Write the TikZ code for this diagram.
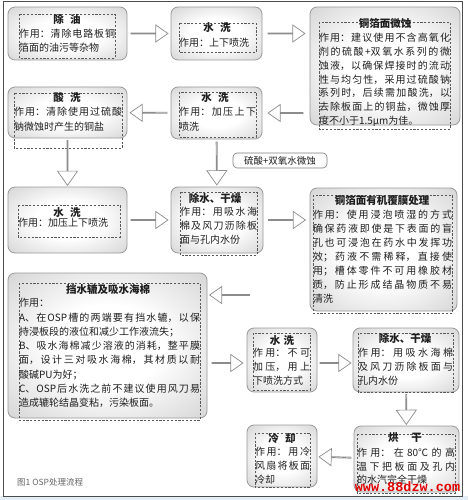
\documentclass[tikz,border=0pt]{standalone}
\usepackage{fontspec}
\setmainfont{Noto Sans CJK SC}
\newfontfamily\wmfont{Liberation Mono}
\usetikzlibrary{shapes.arrows,calc}
\XeTeXlinebreaklocale "zh"
\XeTeXlinebreakskip=0pt plus 2pt
\definecolor{txt}{gray}{0.12}
\definecolor{wmred}{RGB}{225,0,0}
\definecolor{bandblue}{RGB}{226,237,246}
\pgfdeclareradialshading{metal}{\pgfpoint{0bp}{0bp}}{color(0bp)=(white); color(14bp)=(white); color(38bp)=(black!18); color(50bp)=(black!30); color(72bp)=(black!34)}
\pgfdeclareradialshading{metallight}{\pgfpoint{0bp}{0bp}}{color(0bp)=(white); color(25bp)=(white); color(50bp)=(black!12); color(72bp)=(black!15)}
\tikzset{
  stepbox/.style={draw=black!40, line width=0.8pt, rounded corners=7pt, shading=metal, inner sep=0pt, outer sep=0pt},
  innerdash/.style={draw=black!65, dash pattern=on 2.2pt off 1.6pt, line width=0.6pt},
  ttl/.style={font=\fontsize{10.5}{12}\selectfont\bfseries, text=txt, inner sep=0pt, anchor=base},
  body/.style={font=\fontsize{10}{14}\selectfont, text=txt, inner sep=0pt, outer sep=0pt, anchor=north west, align=justify, text width=#1},
  blockarrow/.style={single arrow, draw=black!45, fill=white, line width=0.7pt, inner sep=0pt, outer sep=0pt, single arrow tip angle=70, sloped, allow upside down},
  harrow/.style={blockarrow, minimum height=#1, minimum width=17pt, single arrow head extend=5pt},
  varrow/.style={blockarrow, minimum height=#1, minimum width=20pt, single arrow head extend=6pt},
  tagbox/.style={draw=black!50, line width=0.6pt, rounded corners=4pt, shading=metallight, inner sep=0pt, font=\fontsize{9.5}{11}\selectfont, text=txt},
}
\begin{document}
\begin{tikzpicture}[x=1pt, y=-1pt]
\useasboundingbox (0,0) rectangle (468,500);
\fill[white] (0,0) rectangle (468,500);
\fill[bandblue] (0,496) rectangle (468,500);
\draw[black!70, line width=1pt] (3,2) rectangle (462,496);

% ---------- outer boxes ----------
\node[stepbox, minimum width=119pt, minimum height=53pt] (chuyou) at (67.5,33.5) {};
\node[stepbox, minimum width=91pt, minimum height=53pt] (shui1) at (216.5,33.5) {};
\node[stepbox, minimum width=150pt, minimum height=118pt] (weishi) at (385,66) {};
\node[stepbox, minimum width=91pt, minimum height=52pt] (shui2) at (216.5,113) {};
\node[stepbox, minimum width=119pt, minimum height=51pt] (suanxi) at (67.5,112.5) {};
\node[stepbox, minimum width=119pt, minimum height=66pt] (shui3) at (67.5,220) {};
\node[stepbox, minimum width=92pt, minimum height=66pt] (chushui1) at (217,220) {};
\node[stepbox, minimum width=147pt, minimum height=123pt] (youji) at (383.5,249.5) {};
\node[stepbox, minimum width=199pt, minimum height=145pt] (osp) at (107.5,345.5) {};
\node[stepbox, minimum width=70pt, minimum height=64pt] (shui4) at (282,360) {};
\node[stepbox, minimum width=106pt, minimum height=64pt] (chushui2) at (406,360) {};
\node[stepbox, minimum width=105pt, minimum height=66pt] (hongan) at (406.5,459) {};
\node[stepbox, minimum width=70pt, minimum height=62pt] (lengque) at (282,456) {};

% ---------- inner dashed frames ----------
\draw[innerdash] (19,14) rectangle (115,58);
\draw[innerdash] (179,23) rectangle (256,52);
\draw[innerdash] (319,22) rectangle (450,129);
\draw[innerdash] (179,92) rectangle (256,137);
\draw[innerdash] (14,93) rectangle (122,148);
\draw[innerdash] (18,205) rectangle (120,237);
\draw[innerdash] (180,192) rectangle (257,255);
\draw[innerdash] (313,195) rectangle (452,313);
\draw[innerdash] (19,283) rectangle (200,420);
\draw[innerdash] (253,333) rectangle (310,390);
\draw[innerdash] (358,333) rectangle (453,392);
\draw[innerdash] (357,434) rectangle (455,493);
\draw[innerdash] (255,433) rectangle (310,487);

% ---------- titles ----------
\node[ttl] (t1) at (67,24) {除\hspace{0.6em}油};
\node[ttl] (t2) at (217,32) {水\hspace{0.6em}洗};
\node[ttl] (t3) at (385,28) {铜箔面微蚀};
\node[ttl] (t4) at (215,102) {水\hspace{0.6em}洗};
\node[ttl] (t5) at (67,102) {酸\hspace{0.6em}洗};
\node[ttl] (t6) at (67,216) {水\hspace{0.6em}洗};
\node[ttl] (t7) at (215,202) {除水、干燥};
\node[ttl] (t8) at (382,204) {铜箔面有机覆膜处理};
\node[ttl] (t9) at (108,293) {挡水辘及吸水海棉};
\node[ttl] (t10) at (282,344) {水\hspace{0.3em}洗};
\node[ttl] (t11) at (405,342) {除水、干燥};
\node[ttl] (t12) at (405,441) {烘\hspace{1.2em}干};
\node[ttl] (t13) at (282,442) {冷\hspace{0.6em}却};

% ---------- bodies ----------
\node[body=96pt] (b1) at (19,28) {\strut 作用：清除电路板铜\linebreak 箔面的油污等杂物};
\node[body=77pt] (b2) at (179,37) {\strut 作用：上下喷洗};
\node[body=131pt, font=\fontsize{10}{13.8}\selectfont] (b3) at (319,32.1) {\strut 作用：建议使用不含高氧化\linebreak 剂的硫酸+双氧水系列的微\linebreak 蚀液，以确保焊接时的流动\linebreak 性与均匀性，采用过硫酸钠\linebreak 系列时，后续需加酸洗，以\linebreak 去除板面上的铜盐，微蚀厚\linebreak 度不小于1.5μm为佳。};
\node[body=77pt, font=\fontsize{10}{15}\selectfont] (b4) at (179,105.3) {\strut 作用：加压上下\linebreak 喷洗};
\node[body=108pt, font=\fontsize{10}{15}\selectfont] (b5) at (14,105.3) {\strut 作用：清除使用过硫酸\linebreak 钠微蚀时产生的铜盐};
\node[body=99pt] (b6) at (18,217) {\parfillskip=0pt\strut 作用：加压上下喷洗};
\node[body=77pt] (b7) at (180,206) {\strut 作用：用吸水海\linebreak 棉及风刀沥除板\linebreak 面与孔内水份};
\node[body=139pt] (b8) at (313,209) {\strut 作用：使用浸泡喷湿的方式\linebreak 确保药液即使是下表面的盲\linebreak 孔也可浸泡在药水中发挥功\linebreak 效；药液不需稀释，直接使\linebreak 用；槽体零件不可用橡胶材\linebreak 质，防止形成结晶物质不易\linebreak 清洗};
\node[body=181pt, font=\fontsize{10}{14.25}\selectfont] (b9) at (19,296.8) {\parindent=0pt\parskip=0pt\strut 作用：\par A、在OSP槽的两端要有挡水辘，以保\linebreak 持浸板段的液位和减少工作液流失；\par B、吸水海棉减少溶液的消耗，整平膜\linebreak 面，设计三对吸水海棉，其材质以耐\linebreak 酸碱PU为好；\par C、OSP后水洗之前不建议使用风刀易\linebreak 造成辘轮结晶变粘，污染板面。};
\node[body=57pt] (b10) at (253,347) {\parfillskip=0pt\strut 作用：不可\linebreak 加压，用上\linebreak 下喷洗方式};
\node[body=95pt] (b11) at (358,347) {\strut 作用：用吸水海棉\linebreak 及风刀沥除板面与\linebreak 孔内水份};
\node[body=98pt, font=\fontsize{10}{13.5}\selectfont] (b12) at (357,447.3) {\strut 作用：在80℃的高\linebreak 温下把板面及孔内\linebreak 的水汽完全干燥};
\node[body=55pt, font=\fontsize{10}{13.7}\selectfont] (b13) at (255,446.2) {\strut 作用：用冷\linebreak 风扇将板面\linebreak 冷却};

% ---------- connectors ----------
\path (chuyou) -- node[harrow=37pt] {} (shui1);
\path (shui1.east) -- node[harrow=37pt] {} (shui1.east -| weishi.west);
\path (shui2.east -| weishi.west) -- node[harrow=35pt] {} (shui2.east);
\path (shui2) -- node[harrow=37pt] {} (suanxi);
\path (suanxi) -- node[varrow=45pt] {} (shui3);
\path (shui2) -- node[varrow=43pt] {} (chushui1);
\path (shui3) -- node[harrow=37pt] {} (chushui1);
\path (chushui1.east) -- node[harrow=37pt] {} (chushui1.east -| youji.west);
\coordinate (a1) at (253,295);
\path (a1) -- node[harrow=40pt] {} (osp.east |- a1);
\coordinate (a2) at (0,363);
\path (osp.east |- a2) -- node[harrow=31pt] {} (shui4.west |- a2);
\path (shui4.east |- a2) -- node[harrow=31pt] {} (chushui2.west |- a2);
\path (chushui2) -- node[varrow=30pt] {} (hongan);
\path (hongan) -- node[harrow=32pt] {} (lengque);

\node[tagbox, minimum width=94pt, minimum height=15pt] (tag) at (280,160.5) {硫酸+双氧水微蚀};

% ---------- caption and watermark ----------
\node[anchor=base west, inner sep=0pt, font=\fontsize{8.5}{10}\selectfont, text=black!60] (cap) at (17,485) {图1 OSP处理流程};
\node[anchor=base, inner sep=0pt, font=\wmfont\bfseries\fontsize{13.5}{14}\selectfont, text=wmred] (wm) at (407.5,491.5) {www.88dzw.com};
\end{tikzpicture}
\end{document}
